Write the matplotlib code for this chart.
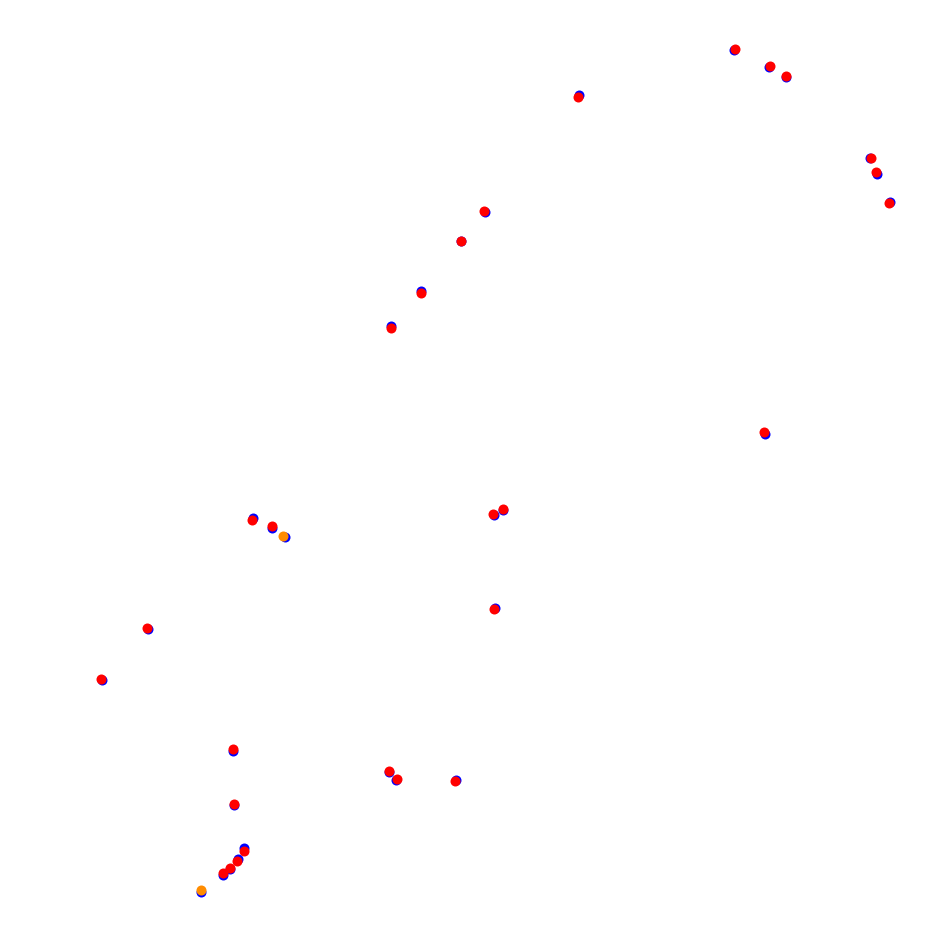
import matplotlib
matplotlib.use("Agg")
import matplotlib.pyplot as plt

# positions (pixel-like units, y grows downward)
blue_x = [734.3, 769.3, 785.7, 579.0, 869.5, 876.7, 889.7, 485.0, 461.0, 421.0,
          390.7, 765.0, 252.7, 271.7, 284.7, 494.0, 503.0, 494.5, 147.5, 102.0,
          233.0, 388.5, 396.0, 455.5, 234.0, 244.0, 238.0, 230.0, 223.0, 200.7]
blue_y = [50.0, 67.3, 77.3, 94.5, 158.0, 173.7, 201.7, 212.0, 241.0, 290.5,
          326.0, 433.5, 518.3, 528.0, 536.7, 515.0, 510.0, 607.5, 629.0, 680.0,
          751.0, 772.0, 780.0, 780.0, 805.0, 848.3, 859.3, 868.5, 874.5, 892.0]

red_x = [735.0, 770.0, 785.7, 577.7, 870.7, 875.7, 889.0, 484.3, 461.0, 421.0,
         390.7, 764.0, 252.0, 271.7, 493.0, 502.7, 494.0, 147.0, 101.3, 233.3,
         389.3, 396.7, 455.0, 234.3, 243.7, 237.3, 229.7, 222.7]
red_y = [49.0, 66.0, 76.3, 96.7, 158.3, 172.0, 203.0, 210.7, 241.0, 292.7,
         327.7, 431.7, 520.0, 526.0, 513.7, 509.0, 608.5, 627.7, 678.7, 749.0,
         770.7, 779.3, 780.7, 803.7, 850.7, 861.0, 867.7, 873.3]

orange_x = [283.3, 200.7]
orange_y = [535.7, 890.0]

fig = plt.figure(figsize=(9.31, 9.4), dpi=100)
ax = fig.add_axes([0, 0, 1, 1])

ax.scatter(blue_x, blue_y, s=52, color="#0000ff", linewidths=0)
ax.scatter(red_x, red_y, s=52, color="#ff0000", linewidths=0)
ax.scatter(orange_x, orange_y, s=52, color="#ff8c00", linewidths=0)

ax.set_xlim(0, 931)
ax.set_ylim(940, 0)
ax.axis("off")

fig.savefig("out.png", dpi=100)
